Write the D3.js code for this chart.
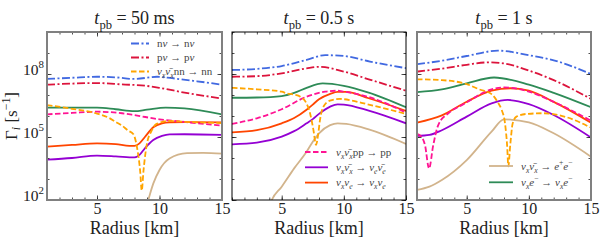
<!DOCTYPE html>
<html>
<head>
<meta charset="utf-8">
<script src="https://cdn.jsdelivr.net/npm/d3@7"></script>
<style>
  body { margin: 0; background: #fff; }
  svg text { font-family: "Liberation Serif", serif; fill: #222; }
</style>
</head>
<body>
<script>
// interaction rates Gamma_i [s^-1] vs radius [km]
var times = ["50 ms", "0.5 s", "1 s"];
var xTicks = [5, 10, 15];
var yTicks = [1e2, 1e5, 1e8];

// t_pb = 50 ms
var nNu50   = [[1,5.8e7],[3,6.6e7],[5,7.4e7],[6.5,6.9e7],[8,5.8e7],[9.8,7.4e7],[11,6.3e7],[13,4.5e7],[15,3.1e7]];
var pNu50   = [[1,3.1e7],[3,3.5e7],[5,3.7e7],[7,3.2e7],[9,2.7e7],[10,2.2e7],[12,1.3e7],[15,6.8e6]];
var nn50    = [[1,3.3e6],[3,2.2e6],[5,1.3e6],[6,7.9e5],[6.5,5.2e5],[7,3.5e5],[7.5,2.0e5],[7.9,1.4e5],[8.2,3.2e4],[8.45,2.5e3],[8.58,2.8e2],[8.72,2.5e3],[8.97,4.0e4],[9.37,2.0e5],[9.77,4.2e5],[10.8,5.8e5],[12,5.3e5],[15,4.6e5]];
var pp50    = [[1,1.2e6],[3,1.4e6],[5,1.6e6],[7,1.35e6],[8,1.1e6],[10,6.9e5],[12,5.2e5],[15,3.5e5]];
var eebar50 = [[1,8.3e3],[3,1.0e4],[5,1.3e4],[6.5,1.2e4],[8.0,1.07e4],[8.4,1.4e4],[8.83,2.9e4],[9.5,7.2e4],[10.2,1.12e5],[10.8,1.32e5],[12,1.35e5],[15,1.26e5]];
var xe50    = [[1,3.5e4],[3,4.2e4],[5,5.0e4],[6.5,4.6e4],[7.6,3.8e4],[8.0,3.8e4],[8.4,5.0e4],[8.83,1.0e5],[9.5,2.9e5],[10.2,4.5e5],[10.8,5.0e5],[12,5.1e5],[15,5.0e5]];
var pair50  = [[8.9,4e1],[9.1,1.0e2],[9.5,6e2],[10,2.7e3],[10.8,9.5e3],[12.2,1.7e4],[13.5,1.75e4],[15,1.6e4]];
var el50    = [[1,2.5e6],[3,2.5e6],[5,2.5e6],[6.5,2.1e6],[8,1.7e6],[9,2.0e6],[10.5,2.5e6],[12,2.3e6],[15,1.2e6]];

// t_pb = 0.5 s
var nNu05   = [[1,1.55e8],[3,1.75e8],[5,2.4e8],[7,4.7e8],[8.5,7.9e8],[10,7.2e8],[12.1,3.9e8],[15,1.9e8]];
var pNu05   = [[1,7.4e7],[3,7.9e7],[5,1.07e8],[7,1.86e8],[8,2.2e8],[10,1.3e8],[12,5.6e7],[15,1.6e7]];
var nn05    = [[1,2.2e7],[3,1.86e7],[5,1.45e7],[5.4,1.2e7],[6,1.05e7],[6.5,8.3e6],[6.9,5.0e6],[7.28,1.35e6],[7.55,2.2e5],[7.76,4.2e4],[7.95,1.6e5],[8.08,6.5e5],[8.35,2.75e6],[8.88,5.4e6],[9.7,6.5e6],[10,6.3e6],[12,3.5e6],[15,1.26e6]];
var pp05    = [[1,4.2e5],[3,7.8e5],[5,2.1e6],[7,8.3e6],[8.5,1.45e7],[9.5,1.6e7],[10,1.45e7],[12,8e6],[15,1.45e6]];
var eebar05 = [[1,4.5e4],[3,5.4e4],[5,1.05e5],[6,1.9e5],[7,4.5e5],[7.5,7.1e5],[8,1.26e6],[8.9,2.8e6],[9.5,3.6e6],[10,3.5e6],[12,1.8e6],[15,4.5e5]];
var xe05    = [[1,1.66e5],[3,2.1e5],[5,4.5e5],[6,8e5],[7,2.0e6],[7.5,3.5e6],[8,6.3e6],[8.9,1.12e7],[9.5,1.4e7],[10.2,1.4e7],[12,7e6],[15,1.74e6]];
var pair05  = [[4.0,5e1],[4.2,1e2],[5,4.3e2],[6,3.2e3],[7,2.0e4],[7.5,6e4],[8,1.5e5],[8.9,3.7e5],[9.5,4.5e5],[10.2,4.2e5],[12,2.3e5],[15,4.7e4]];
var el05    = [[1,7.4e6],[3,7.6e6],[5,8.9e6],[6,1.26e7],[7,2.2e7],[8.3,3.6e7],[10,2.75e7],[12,1.3e7],[15,2.6e6]];

// t_pb = 1 s
var nNu1    = [[1,2.9e8],[3,4.3e8],[5,7.2e8],[7.5,1.29e9],[10,7.9e8],[12,4.5e8],[15,1.0e8]];
var pNu1    = [[1,1.3e8],[3,1.8e8],[5,2.75e8],[6.8,3.6e8],[8,3.2e8],[10,1.45e8],[12,5.1e7],[15,6.5e6]];
var nn1     = [[1,5.6e7],[3,5.1e7],[5,3.3e7],[6,1.86e7],[7,1.1e7],[7.5,4.5e6],[7.81,1.95e6],[8.08,4.5e5],[8.25,4e4],[8.35,4e3],[8.5,4e4],[8.7,4.5e5],[9.0,9.3e5],[9.83,1.26e6],[11.2,1.35e6],[13,8.9e5],[15,2.75e5]];
var pp1     = [[1,1.4e5],[1.37,1.0e5],[1.64,4.2e4],[1.97,3.2e3],[2.31,4.2e4],[2.71,3.7e5],[3.52,1.35e6],[4.6,3.3e6],[5,4.5e6],[7,1.86e7],[8,2.3e7],[10,1.45e7],[12,4.7e6],[15,6e5]];
var eebar1  = [[1,1.12e5],[2,1.26e5],[3,2.1e5],[5,9.3e5],[7,4e6],[8.3,5.8e6],[10,3.7e6],[12,1.12e6],[15,9.5e4]];
var xe1     = [[1,4.8e5],[3,1.07e6],[5,4.8e6],[7,1.6e7],[8.5,2.1e7],[10,1.6e7],[12,4.7e6],[15,4.8e5]];
var pair1   = [[1,3.0e2],[2,4.3e2],[3,8.9e2],[5,7.9e3],[7,1.8e5],[8,6.9e5],[10,5.0e5],[12,1.5e5],[15,1.15e4]];
var el1     = [[1,1.38e7],[3,1.86e7],[5,3.6e7],[7.2,6.8e7],[10,3.1e7],[12,1.26e7],[15,2.6e6]];

var nubar = "\u03bd\u0304";
// label parts: [text, style] with i = italic, b = subscript, p = superscript
var series = [
  {data: [pair50, pair05, pair1],    color: "#d2b48c", dash: null,
   label: [["ν","i"],["x","ib"],[nubar,"i"],["x","ib"],[" → "],["e","i"],["+","p"],["e","i"],["−","p"]]},
  {data: [eebar50, eebar05, eebar1], color: "#9400d3", dash: null,
   label: [["ν","i"],["x","ib"],[nubar,"i"],["x","ib"],[" → "],["ν","i"],["e","ib"],[nubar,"i"],["e","ib"]]},
  {data: [xe50, xe05, xe1],          color: "#ff4500", dash: null,
   label: [["ν","i"],["x","ib"],["ν","i"],["e","ib"],[" → "],["ν","i"],["x","ib"],["ν","i"],["e","ib"]]},
  {data: [el50, el05, el1],          color: "#2e8b57", dash: null,
   label: [["ν","i"],["x","ib"],["e","i"],["−","p"],[" → "],["ν","i"],["x","ib"],["e","i"],["−","p"]]},
  {data: [pp50, pp05, pp1],          color: "#ff1493", dash: "5.5,2.5",
   label: [["ν","i"],["x","ib"],[nubar,"i"],["x","ib"],["pp → pp"]]},
  {data: [nn50, nn05, nn1],          color: "#ffa500", dash: "5.5,2.5",
   label: [["ν","i"],["x","ib"],[nubar,"i"],["x","ib"],["nn → nn"]]},
  {data: [pNu50, pNu05, pNu1],       color: "#dc143c", dash: "8,2.5,2,2.5",
   label: [["p"],["ν","i"],[" → p"],["ν","i"]]},
  {data: [nNu50, nNu05, nNu1],       color: "#4169e1", dash: "8,2.5,2,2.5",
   label: [["n"],["ν","i"],[" → n"],["ν","i"]]}
];
// which series go in each panel's legend (indices into series)
var legends = [[7, 6, 5], [4, 1, 2], [0, 3]];

var W = 600, H = 240;
var yTop = 32, yBot = 200;
var panelX = [[47, 222], [232, 406], [417, 591]];
var frameStyle = [["#808080", 2], ["#000", 1], ["#808080", 2]];
var legendPos = [{x: 131, len: 18, y: 43.5, dy: 14}, {x: 305, len: 23, y: 152, dy: 15.3}, {x: 489, len: 24, y: 166, dy: 16.3}];
var serif = "Liberation Serif";

var svg = d3.select("body").append("svg")
    .attr("width", W)
    .attr("height", H);
svg.append("rect").attr("width", W).attr("height", H).attr("fill", "#fff");

// write text with italic / sub / superscript pieces
function rich(sel, parts, size, sub) {
  var cur = 0;
  sub = sub || 0.3;
  parts.forEach(function(p) {
    var st = p[1] || "";
    var target = 0, fs = size;
    if (st.indexOf("b") >= 0) { target = size * sub; fs = size * 0.7; }
    if (st.indexOf("p") >= 0) { target = -size * 0.4; fs = size * 0.7; }
    var t = sel.append("tspan").text(p[0]).attr("font-size", fs).attr("dy", target - cur);
    if (st.indexOf("i") >= 0) t.style("font-style", "italic");
    cur = target;
  });
}

var y = d3.scaleLog().domain([1e2, 1e10]).range([yBot, yTop]);

times.forEach(function(tm, k) {
  var x = d3.scaleLinear().domain([1, 15]).range(panelX[k]);
  var g = svg.append("g");

  g.append("clipPath").attr("id", "clip" + k)
    .append("rect")
    .attr("x", panelX[k][0]).attr("y", yTop)
    .attr("width", panelX[k][1] - panelX[k][0]).attr("height", yBot - yTop);

  var line = d3.line()
    .x(function(d) { return x(d[0]); })
    .y(function(d) { return y(d[1]); })
    .curve(d3.curveMonotoneX);

  var plot = g.append("g").attr("clip-path", "url(#clip" + k + ")");
  series.forEach(function(s) {
    plot.append("path")
      .datum(s.data[k])
      .attr("d", line)
      .attr("fill", "none")
      .attr("stroke", s.color)
      .attr("stroke-width", 1.8)
      .attr("stroke-dasharray", s.dash);
  });

  // minor and major ticks, pointing inward on all sides
  var minor = d3.range(1, 16);
  g.append("g").attr("transform", "translate(0," + yBot + ")")
    .call(d3.axisBottom(x).tickValues(minor).tickSize(-2.5).tickFormat(""));
  g.append("g").attr("transform", "translate(0," + yTop + ")")
    .call(d3.axisTop(x).tickValues(minor).tickSize(-2.5).tickFormat(""));
  var xb = g.append("g").attr("transform", "translate(0," + yBot + ")")
    .call(d3.axisBottom(x).tickValues(xTicks).tickSize(-4.5).tickPadding(3));
  g.append("g").attr("transform", "translate(0," + yTop + ")")
    .call(d3.axisTop(x).tickValues(xTicks).tickSize(-4.5).tickFormat(""));

  var decades = d3.range(2, 11).map(function(e) { return Math.pow(10, e); });
  g.append("g").attr("transform", "translate(" + panelX[k][0] + ",0)")
    .call(d3.axisLeft(y).tickValues(decades).tickSize(-2.5).tickFormat(""));
  g.append("g").attr("transform", "translate(" + panelX[k][1] + ",0)")
    .call(d3.axisRight(y).tickValues(decades).tickSize(-2.5).tickFormat(""));
  var yl = g.append("g").attr("transform", "translate(" + panelX[k][0] + ",0)")
    .call(d3.axisLeft(y).tickValues(yTicks).tickSize(-4.5).tickPadding(3).tickFormat(""));
  g.append("g").attr("transform", "translate(" + panelX[k][1] + ",0)")
    .call(d3.axisRight(y).tickValues(yTicks).tickSize(-4.5).tickFormat(""));

  g.selectAll(".domain").remove();
  g.selectAll(".tick line").attr("stroke", "#222").attr("stroke-width", 0.8);

  xb.selectAll(".tick text")
    .attr("font-size", 16)
    .attr("font-family", serif)
    .attr("fill", "#222");

  if (k === 0) {
    yl.selectAll(".tick").each(function(d) {
      var t = d3.select(this).append("text")
        .attr("x", -3).attr("dy", "0.35em")
        .attr("text-anchor", "end")
        .attr("font-family", serif)
        .attr("font-size", 15.5);
      rich(t, [["10"], [String(Math.round(Math.log10(d))), "p"]], 15.5);
    });
  }

  g.append("rect")
    .attr("x", panelX[k][0]).attr("y", yTop)
    .attr("width", panelX[k][1] - panelX[k][0]).attr("height", yBot - yTop)
    .attr("fill", "none")
    .attr("stroke", frameStyle[k][0])
    .attr("stroke-width", frameStyle[k][1]);

  // title
  var tt = g.append("text")
    .attr("x", (panelX[k][0] + panelX[k][1]) / 2).attr("y", 24)
    .attr("text-anchor", "middle").attr("font-family", serif).attr("font-size", 18);
  rich(tt, [["t", "i"], ["pb", "b"], [" = " + tm]], 18);

  g.append("text")
    .attr("x", (panelX[k][0] + panelX[k][1]) / 2).attr("y", 234)
    .attr("text-anchor", "middle").attr("font-family", serif).attr("font-size", 18)
    .text("Radius [km]");

  // legend
  var lp = legendPos[k];
  legends[k].forEach(function(si, j) {
    var s = series[si], ly = lp.y + j * lp.dy;
    g.append("line")
      .attr("x1", lp.x).attr("x2", lp.x + lp.len)
      .attr("y1", ly).attr("y2", ly)
      .attr("stroke", s.color).attr("stroke-width", 1.8)
      .attr("stroke-dasharray", s.dash);
    var lt = g.append("text")
      .attr("x", lp.x + lp.len + 8).attr("y", ly + 3.5)
      .attr("font-family", serif)
      .attr("font-size", 11).style("fill", "#444");
    rich(lt, s.label, 11);
  });
});

// y axis label
var yt = svg.append("text")
  .attr("transform", "translate(17," + (yTop + yBot) / 2 + ") rotate(-90)")
  .attr("text-anchor", "middle").attr("font-family", serif).attr("font-size", 17);
rich(yt, [["Γ"], ["i", "ib"], [" [s"], ["−1", "p"], ["]"]], 17, 0.18);
</script>
</body>
</html>
